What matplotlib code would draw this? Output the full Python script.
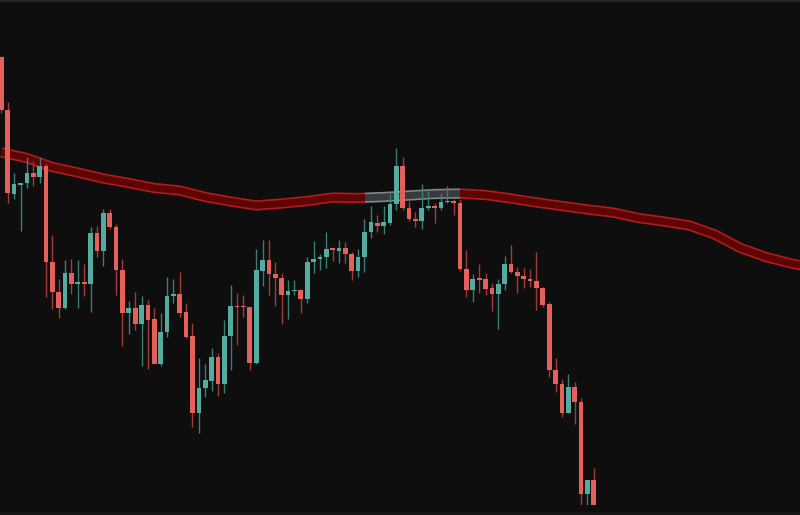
import numpy as np
import matplotlib
matplotlib.use('Agg')
import matplotlib.pyplot as plt
from matplotlib.patches import Rectangle

# velas (precio en unidades de pixel, arriba = mayor)
opens = [458, 405, 321, 330, 332, 342, 338, 349, 253, 223, 207, 242, 231, 233, 231, 282, 264, 302, 288, 245,
         202, 207, 191, 210, 196, 151, 183, 219, 221, 203, 179, 102, 127, 134, 158, 131, 179, 209, 209, 208,
         152, 244, 255, 241, 237, 220, 224, 225, 216, 253, 256, 258, 267, 264, 267, 261, 244, 258, 283, 292,
         289, 292, 311, 349, 307, 296, 294, 307, 309, 307, 313, 314, 312, 246, 225, 237, 236, 227, 221, 231,
         251, 243, 239, 236, 234, 227, 211, 145, 131, 102, 128, 113, 21, 35]
closes = [405, 322, 331, 332, 342, 338, 349, 253, 223, 207, 242, 231, 233, 231, 282, 264, 302, 288, 245, 202,
          207, 191, 210, 195, 151, 183, 219, 221, 202, 178, 102, 127, 135, 158, 131, 179, 209, 208, 208, 152,
          245, 255, 241, 237, 220, 224, 225, 216, 253, 256, 258, 266, 265, 267, 261, 244, 258, 283, 293, 289,
          293, 311, 349, 307, 296, 294, 307, 309, 307, 313, 314, 312, 246, 225, 236, 235, 226, 221, 231, 251,
          243, 239, 236, 234, 227, 210, 145, 131, 102, 128, 113, 21, 35, 10]
highs = [459, 413, 342, 332, 358, 354, 358, 352, 280, 236, 255, 256, 255, 251, 288, 289, 306, 306, 291, 256,
         214, 223, 219, 215, 207, 202, 238, 236, 243, 212, 192, 157, 151, 167, 162, 195, 230, 222, 220, 208,
         266, 275, 275, 253, 242, 235, 235, 226, 258, 274, 261, 283, 268, 275, 273, 263, 266, 296, 309, 300,
         309, 322, 367, 358, 314, 303, 331, 326, 312, 322, 329, 316, 316, 265, 241, 251, 242, 232, 236, 259,
         270, 248, 247, 246, 263, 228, 213, 157, 136, 141, 133, 117, 35, 47]
lows = [402, 312, 316, 284, 327, 329, 332, 218, 206, 197, 206, 221, 207, 219, 203, 258, 249, 286, 220, 169,
        181, 185, 149, 146, 151, 149, 178, 212, 198, 177, 88, 82, 118, 124, 119, 122, 145, 170, 198, 145,
        151, 229, 220, 209, 191, 196, 220, 202, 212, 242, 245, 247, 254, 252, 252, 235, 238, 243, 277, 283,
        281, 290, 305, 305, 294, 288, 286, 305, 292, 305, 312, 300, 244, 218, 213, 222, 220, 204, 186, 225,
        242, 222, 227, 228, 205, 208, 138, 123, 98, 102, 91, 10, 10, 10]

# media movil (leida cada 4 velas)
ma_idx = [0, 4, 8, 12, 16, 20, 24, 28, 32, 36, 40, 44, 48, 52, 56, 60, 64, 68, 72, 76, 80, 84,
          88, 92, 96, 100, 104, 108, 112, 116, 120, 124, 126]
ma_val = [362.5, 357, 348, 342.5, 336.5, 332, 327, 324.5, 318, 313.5, 309.5, 311.5, 314, 317.5, 317,
          318, 319.5, 321, 321.5, 320, 316.5, 312.5, 309, 305.5, 302.5, 297, 293.5, 289.5, 280.5, 267,
          258, 251.5, 249]
# tramo resaltado en gris
hl_start, hl_end = 57.1, 72.0

up_body = '#55ab9f'
dn_body = '#e4605a'
up_wick = '#3a7d73'
dn_wick = '#a03c38'
bg = '#0e0e0e'

fig = plt.figure(figsize=(8, 5.15), dpi=100, facecolor=bg)
ax = fig.add_axes([0, 10 / 515, 1, 505 / 515])
ax.set_facecolor(bg)
ax.set_xlim(-0.22, 125.37)
ax.set_ylim(10, 515)
ax.axis('off')

# linea media: banda roja con bordes, tramo gris
x_ma = np.array(ma_idx)
y_ma = np.array(ma_val)
tramos = [(-5, hl_start, '#b01c1c', '#5e0404'),
          (hl_start, hl_end, '#80868a', '#363b3e'),
          (hl_end, 130, '#b01c1c', '#5e0404')]
for x0, x1, c_edge, c_fill in tramos:
    clip = Rectangle((x0, 0), x1 - x0, 600, transform=ax.transData)
    l1, = ax.plot(x_ma, y_ma, color=c_edge, lw=7.4, solid_capstyle='butt', solid_joinstyle='round', zorder=1)
    l2, = ax.plot(x_ma, y_ma, color=c_fill, lw=5.0, solid_capstyle='butt', solid_joinstyle='round', zorder=2)
    l1.set_clip_path(clip)
    l2.set_clip_path(clip)

# velas
idx = np.arange(len(opens))
o = np.array(opens)
c = np.array(closes)
sube = c >= o
col_body = np.where(sube, up_body, dn_body)
col_wick = np.where(sube, up_wick, dn_wick)
ax.vlines(idx, lows, highs, colors=col_wick, lw=1.0, zorder=3)
alto = np.maximum(np.abs(c - o), 1.5)
base = np.minimum(o, c)
ax.bar(idx, alto, bottom=base, width=0.74, color=col_body, linewidth=0, zorder=4)

# bordes finos arriba y abajo
fig.add_artist(plt.Line2D([0, 1], [0.999, 0.999], color='#262626', lw=1.5))
fig.add_artist(plt.Line2D([0, 1], [0.003, 0.003], color='#161616', lw=2))

fig.savefig('out.png', dpi=100, facecolor=bg)
